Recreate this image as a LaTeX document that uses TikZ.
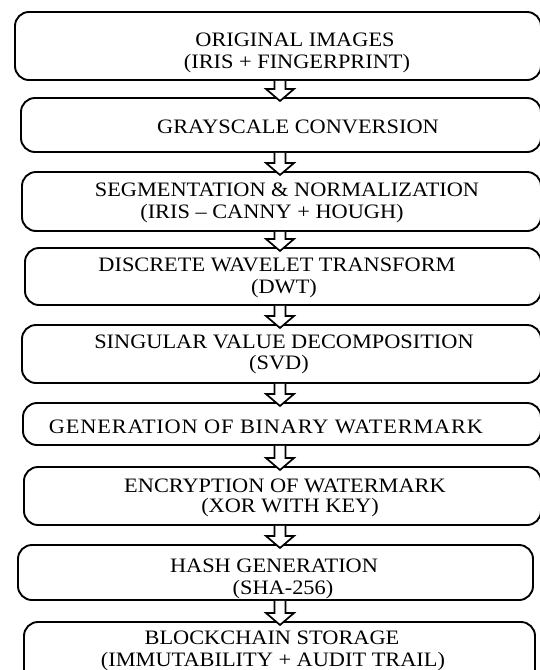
\documentclass[tikz,border=0pt]{standalone}
\usepackage{fontspec}
\setmainfont{Liberation Serif}[FakeStretch=1.09]
\usetikzlibrary{calc}
\tikzset{
  stagebox/.style={draw, line width=1.9pt, rounded corners=14pt, inner sep=0pt, outer sep=0pt, fill=white},
  lbl/.style={anchor=base, inner sep=0pt, outer sep=0pt, font=\fontsize{20.5}{22}\selectfont},
  flowarrow/.style={draw, line width=1.7pt, fill=white, line join=miter},
}
\newcommand\StageBox[5]{%
  \node[stagebox, minimum width={(#4-#2)*1pt}, minimum height={(#5-#3)*1pt}] (#1) at ({(#2+#4)/2},{(#3+#5)/2}) {};}
\newcommand\FlowArrow[2]{%
  \draw[flowarrow] let \p1=(#1.south -| ax), \p2=(#2.north -| ax) in
    (\x1-5.5pt,\y1-0.9pt) -- (\x1-5.5pt,\y2+9pt) -- (\x1-14pt,\y2+9pt) -- (\x1,\y2-3pt)
    -- (\x1+14pt,\y2+9pt) -- (\x1+5.5pt,\y2+9pt) -- (\x1+5.5pt,\y1-0.9pt);}
\begin{document}
\begin{tikzpicture}[x=1pt,y=-1pt]
\useasboundingbox (0,0) rectangle (540,670);
\clip (0,0) rectangle (540,670);
\coordinate (ax) at (280,0);
\StageBox{b1}{15}{12}{541}{80}
\StageBox{b2}{21}{98}{541}{152}
\StageBox{b3}{22}{172}{541}{231}
\StageBox{b4}{25}{248}{541}{305}
\StageBox{b5}{22}{325}{541}{383}
\StageBox{b6}{23}{403}{541}{445}
\StageBox{b7}{24}{467}{541}{525}
\StageBox{b8}{18}{545}{533}{600}
\StageBox{b9}{24}{622}{535}{700}
\FlowArrow{b1}{b2}
\FlowArrow{b2}{b3}
\FlowArrow{b3}{b4}
\FlowArrow{b4}{b5}
\FlowArrow{b5}{b6}
\FlowArrow{b6}{b7}
\FlowArrow{b7}{b8}
\FlowArrow{b8}{b9}
\node[lbl] (t1a) at (295,46.5) {ORIGINAL IMAGES};
\node[lbl] (t1b) at (297,68.5) {(IRIS + FINGERPRINT)};
\node[lbl] (t2a) at (298,133.5) {GRAYSCALE CONVERSION};
\node[lbl] (t3a) at (287,196.5) {SEGMENTATION \& NORMALIZATION};
\node[lbl] (t3b) at (272,218.5) {(IRIS – CANNY + HOUGH)};
\node[lbl] (t4a) at (277,271.5) {DISCRETE WAVELET TRANSFORM};
\node[lbl] (t4b) at (284,293.5) {(DWT)};
\node[lbl] (t5a) at (284,348.5) {SINGULAR VALUE DECOMPOSITION};
\node[lbl] (t5b) at (279,369.5) {(SVD)};
\node[lbl,font=\fontsize{20.5}{22}\selectfont\addfontfeatures{LetterSpace=4}] (t6a) at (266,433.5) {GENERATION OF BINARY WATERMARK};
\node[lbl] (t7a) at (285,492) {ENCRYPTION OF WATERMARK};
\node[lbl] (t7b) at (290,512) {(XOR WITH KEY)};
\node[lbl] (t8a) at (274,572) {HASH GENERATION};
\node[lbl] (t8b) at (283,594) {(SHA-256)};
\node[lbl] (t9a) at (272,644) {BLOCKCHAIN STORAGE};
\node[lbl] (t9b) at (273,666) {(IMMUTABILITY + AUDIT TRAIL)};
\end{tikzpicture}
\end{document}
